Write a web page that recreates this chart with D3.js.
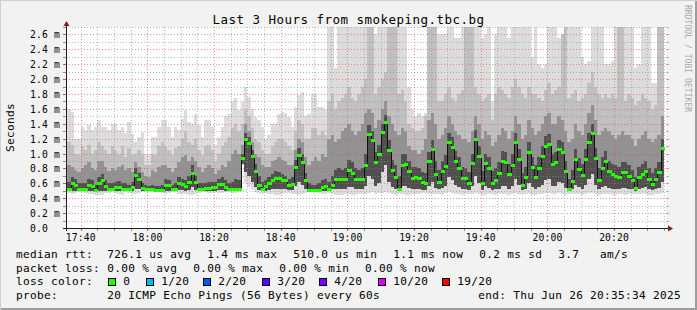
<!DOCTYPE html>
<html>
<head>
<meta charset="utf-8">
<script src="https://cdn.jsdelivr.net/npm/d3@7"></script>
<style>
  html, body { margin: 0; padding: 0; background: #f2f2f2; }
  svg { display: block; }
  text { font-family: "DejaVu Sans Mono", monospace; fill: #000; }
</style>
</head>
<body>
<div id="chart"></div>
<script>
// one value per minute, in ms (17:36 .. 20:35)
const median = [
  .52,.61,.58,.53,.52,.52,.58,.56,.51,.60,
  .64,.56,.52,.52,.55,.55,.53,.53,.52,.55,
  .71,.66,.54,.53,.53,.53,.51,.51,.51,.58,
  .58,.52,.53,.61,.59,.57,.62,.74,.62,.52,
  .53,.54,.54,.55,.55,.59,.59,.55,.53,.53,
  .53,.53,.94,1.19,1.14,.97,.76,.58,.53,.56,
  .61,.64,.67,.67,.64,.64,.58,.59,.82,.98,
  .89,.64,.51,.51,.51,.51,.55,.56,.53,.58,
  .66,.66,.66,.66,.78,.74,.66,.66,.66,.85,
  1.26,1.18,.88,.99,1.29,1.43,1.05,.78,.69,.53,
  .85,.86,.76,.67,.68,.67,.62,.60,.90,1.06,
  .73,.62,.77,.83,1.16,1.09,.90,.80,.67,.67,
  .60,.87,1.20,.97,.61,.87,.80,.61,.65,.74,
  .90,.89,.72,.85,1.15,.93,.58,.68,1.02,.82,
  .68,.81,.97,1.10,1.13,.86,.89,1.06,1.02,.76,
  .52,.63,.93,.79,.71,.93,1.15,1.28,.94,.65,
  .81,.90,.76,.72,.70,.68,.75,.75,.70,.64,
  .54,.68,.72,.76,.66,.59,.66,.75,1.07
];

// lowest ping of each minute
const minPing = [
  .47,.46,.47,.48,.48,.47,.46,.46,.44,.45,
  .45,.47,.47,.48,.47,.46,.45,.48,.47,.46,
  .46,.47,.48,.49,.49,.48,.48,.48,.47,.46,
  .47,.48,.48,.46,.46,.46,.45,.45,.46,.47,
  .48,.48,.47,.47,.48,.47,.47,.48,.48,.47,
  .47,.48,.84,.60,.55,.52,.48,.47,.46,.47,
  .46,.46,.45,.45,.46,.47,.47,.46,.46,.45,
  .46,.47,.48,.48,.48,.47,.46,.46,.47,.46,
  .45,.45,.45,.46,.46,.45,.45,.46,.46,.46,
  .47,.48,.46,.47,.47,.48,.47,.46,.45,.46,
  .46,.45,.45,.46,.46,.46,.47,.47,.46,.46,
  .46,.46,.45,.47,.48,.47,.46,.46,.45,.46,
  .46,.46,.47,.46,.45,.45,.46,.46,.45,.46,
  .46,.46,.45,.46,.47,.46,.45,.46,.46,.45,
  .45,.46,.46,.47,.47,.46,.46,.47,.46,.45,
  .46,.46,.46,.46,.45,.46,.47,.47,.46,.45,
  .46,.46,.46,.45,.45,.46,.46,.45,.46,.46,
  .46,.46,.46,.46,.45,.45,.46,.46,.47
];

// lower edge of the inner smoke bands
const innerLow = [
  .50,.50,.50,.50,.50,.50,.50,.50,.49,.50,
  .50,.50,.50,.50,.50,.50,.50,.50,.50,.50,
  .52,.52,.50,.50,.50,.50,.49,.49,.49,.50,
  .50,.50,.50,.51,.51,.50,.51,.55,.51,.50,
  .50,.50,.50,.50,.50,.51,.51,.50,.50,.50,
  .50,.50,.86,.75,.70,.62,.55,.51,.50,.50,
  .51,.52,.52,.52,.52,.52,.51,.51,.56,.62,
  .58,.52,.49,.49,.49,.49,.50,.50,.50,.52,
  .52,.52,.52,.52,.55,.55,.52,.52,.52,.56,
  .70,.66,.56,.60,.75,.85,.62,.55,.53,.50,
  .56,.56,.54,.52,.52,.52,.51,.51,.56,.62,
  .54,.52,.54,.56,.68,.64,.58,.55,.52,.52,
  .51,.56,.70,.60,.51,.56,.54,.51,.52,.53,
  .56,.56,.53,.56,.66,.58,.51,.53,.60,.55,
  .53,.55,.58,.64,.66,.56,.57,.62,.60,.54,
  .50,.52,.58,.55,.53,.58,.66,.72,.58,.52,
  .55,.57,.54,.53,.53,.53,.54,.54,.53,.52,
  .50,.53,.54,.55,.53,.51,.53,.54,.62
];

// upper edges of the smoke bands, darkest first
const band1 = [
  .62,.68,.66,.60,.60,.60,.66,.64,.58,.68,
  .72,.64,.60,.60,.62,.63,.60,.60,.58,.62,
  .80,.74,.60,.58,.57,.58,.56,.56,.58,.66,
  .65,.58,.60,.68,.66,.64,.70,.85,.70,.60,
  .60,.60,.62,.62,.62,.66,.68,.64,.60,.62,
  .66,.64,1.00,1.28,1.22,1.05,.86,.70,.62,.64,
  .68,.72,.76,.75,.72,.70,.66,.68,.92,1.08,
  1.00,.74,.60,.58,.58,.60,.64,.66,.62,.70,
  .78,.80,.78,.80,.92,.88,.80,.78,.80,1.00,
  1.38,1.30,1.02,1.12,1.40,1.52,1.18,.92,.85,.70,
  1.00,1.00,.90,.82,.82,.80,.75,.74,1.02,1.18,
  .90,.78,.90,.98,1.28,1.22,1.04,.95,.82,.80,
  .75,1.00,1.32,1.10,.76,1.00,.95,.76,.80,.88,
  1.04,1.02,.86,1.00,1.28,1.06,.74,.82,1.16,.96,
  .84,.96,1.10,1.24,1.26,1.00,1.02,1.18,1.15,.90,
  .66,.78,1.06,.94,.86,1.06,1.28,1.40,1.08,.80,
  .96,1.04,.90,.86,.84,.82,.88,.88,.84,.78,
  .68,.82,.86,.90,.80,.74,.80,.88,1.20
];
const band2 = [
  .85,.82,.78,.75,.80,.85,.88,.80,.78,.90,
  .90,.82,.76,.80,.78,.82,.85,.78,.80,.75,
  .88,.82,.75,.70,.68,.78,.75,.82,.85,.85,
  .80,.75,.80,.88,.95,.98,.90,.95,.90,.82,
  .75,.80,.85,.80,.72,.78,.85,.82,.90,1.00,
  1.05,1.00,1.12,1.40,1.30,1.15,1.00,.95,.85,.82,
  .82,.90,.92,.95,.92,.90,.85,.85,1.05,1.20,
  1.15,.95,.85,.90,.95,.90,1.00,.95,1.20,1.25,
  1.15,1.20,1.30,1.35,1.40,1.30,1.25,1.30,1.40,1.55,
  1.60,1.55,1.35,1.45,1.60,1.70,1.50,1.40,1.30,1.25,
  1.35,1.30,1.10,1.05,1.05,1.00,1.05,1.20,1.45,1.55,
  1.40,1.20,1.25,1.35,1.50,1.40,1.30,1.25,1.20,1.20,
  1.15,1.30,1.50,1.40,1.20,1.30,1.25,1.10,1.15,1.25,
  1.35,1.30,1.20,1.30,1.50,1.40,1.20,1.25,1.45,1.35,
  1.25,1.30,1.40,1.50,1.55,1.40,1.40,1.50,1.45,1.30,
  1.15,1.20,1.40,1.30,1.25,1.40,1.55,1.65,1.45,1.25,
  1.30,1.35,1.30,1.25,1.20,1.25,1.30,1.25,1.25,1.20,
  1.10,1.20,1.25,1.30,1.20,1.15,1.20,1.25,1.50
];
const band3 = [
  1.15,1.12,1.00,.98,1.10,1.05,1.12,1.00,1.05,1.15,
  1.10,1.05,1.00,1.10,1.05,1.00,1.10,.95,1.08,.98,
  1.00,1.05,1.00,.85,.85,1.00,.98,1.10,1.15,1.10,
  1.05,.98,1.08,1.10,1.20,1.30,1.15,1.12,1.20,1.05,
  .98,1.10,1.12,1.05,.90,1.00,1.10,1.15,1.22,1.35,
  1.40,1.30,1.40,1.60,1.50,1.35,1.20,1.15,1.05,1.00,
  1.00,1.10,1.15,1.20,1.20,1.15,1.10,1.05,1.30,1.45,
  1.40,1.20,1.20,1.35,1.35,1.25,1.30,1.25,1.70,1.80,
  1.60,1.70,1.75,1.80,1.90,1.75,1.70,1.80,1.90,2.00,
  2.70,2.70,1.80,1.90,2.00,2.10,2.70,2.70,2.70,1.80,
  1.85,1.70,1.40,1.35,1.30,1.30,1.35,1.50,2.70,2.70,
  2.70,1.70,1.70,1.80,1.90,1.75,1.70,1.80,1.85,2.70,
  2.70,2.70,1.90,1.80,1.70,1.75,1.80,1.45,1.80,1.90,
  1.85,1.80,1.75,1.90,2.00,1.90,1.80,1.75,1.90,1.80,
  1.80,1.75,1.70,1.85,1.95,1.80,1.85,1.90,2.60,2.70,
  1.75,1.80,1.85,1.70,1.75,1.80,1.95,2.10,1.90,1.80,
  1.75,1.80,1.75,1.80,1.75,2.70,2.70,1.70,1.80,1.75,
  1.65,1.70,1.80,1.75,1.70,1.60,1.65,2.70,2.70
];
// highest ping of each minute (2.70 = off the top)
const maxPing = [
  1.60,1.56,1.20,1.20,1.36,1.31,1.38,1.31,1.36,1.45,
  1.36,1.36,1.31,1.40,1.40,1.31,1.36,1.27,1.42,1.26,
  1.15,1.22,1.29,1.00,1.00,1.22,1.22,1.36,1.45,1.45,
  1.36,1.22,1.36,1.31,1.47,1.59,1.42,1.40,1.53,1.38,
  1.22,1.45,1.45,1.36,1.11,1.22,1.36,1.51,1.53,1.71,
  1.75,1.58,1.69,1.90,1.76,1.60,1.49,1.45,1.36,1.20,
  1.25,1.40,1.40,1.53,1.56,1.54,1.49,1.36,1.62,1.78,
  1.83,1.51,1.53,1.80,1.80,1.62,1.63,1.58,2.70,2.70,
  2.15,2.70,2.70,2.70,2.70,2.70,2.70,2.70,2.70,2.70,
  2.70,2.70,2.60,2.70,2.70,2.70,2.70,2.70,2.70,2.70,
  2.70,2.70,1.90,1.60,1.50,1.55,1.50,1.55,2.70,2.70,
  2.70,2.60,2.60,2.60,2.70,2.70,2.55,2.55,2.70,2.70,
  2.70,2.70,2.70,2.70,2.55,2.60,2.70,1.70,2.60,2.70,
  2.70,2.70,2.55,2.70,2.70,2.70,2.70,2.70,2.70,2.30,
  2.70,2.20,2.15,2.20,2.70,2.70,2.70,2.55,2.60,2.70,
  2.70,2.70,2.70,2.70,2.30,2.20,2.25,2.70,2.70,2.70,
  2.70,2.20,2.20,2.25,2.70,2.70,2.70,2.70,2.70,2.70,
  2.15,2.20,2.70,2.70,2.70,1.95,1.95,2.70,2.70
];

const yTickValues = [0, 0.2, 0.4, 0.6, 0.8, 1.0, 1.2, 1.4, 1.6, 1.8, 2.0, 2.2, 2.4, 2.6];
const yTickLabels = ["0.0", "0.2 m", "0.4 m", "0.6 m", "0.8 m", "1.0 m", "1.2 m",
  "1.4 m", "1.6 m", "1.8 m", "2.0 m", "2.2 m", "2.4 m", "2.6 m"];
const xTickLabels = ["17:40", "18:00", "18:20", "18:40", "19:00", "19:20", "19:40", "20:00", "20:20"];

const lossLabels = ["0", "1/20", "2/20", "3/20", "4/20", "10/20", "19/20"];
const lossColors = ["#26ff00", "#00b8ff", "#0059ff", "#5e00ff", "#7e00ff", "#dd00ff", "#ff0000"];

const smokeColors = ["#dcdcdc", "#c0c0c0", "#929292", "#505050"];

const W = 697, H = 310;
const plot = { left: 66, right: 666, top: 27, bottom: 228 };

const endTime = new Date(2025, 5, 26, 20, 35, 34);
const startTime = d3.timeHour.offset(endTime, -3);
const firstCol = new Date(2025, 5, 26, 17, 36, 0);

const x = d3.scaleTime().domain([startTime, endTime]).range([plot.left, plot.right]);
const y = d3.scaleLinear().domain([0, 2.7]).range([plot.bottom, plot.top]);
const py = v => Math.round(y(v)) + 0.5;
const px = t => Math.round(x(t)) + 0.5;

const svg = d3.select("#chart").append("svg")
  .attr("width", W).attr("height", H);

// frame with rrdtool style shading
svg.append("rect").attr("width", W).attr("height", H).attr("fill", "#f2f2f2");
svg.append("path").attr("d", `M0,${H} V0 H${W}`).attr("fill", "none")
  .attr("stroke", "#cfcfcf").attr("stroke-width", 2);
svg.append("path").attr("d", `M1,${H - 1} H${W - 1} V1`).attr("fill", "none")
  .attr("stroke", "#9e9e9e").attr("stroke-width", 2);

svg.append("rect")
  .attr("x", plot.left).attr("y", plot.top)
  .attr("width", plot.right - plot.left).attr("height", plot.bottom - plot.top)
  .attr("fill", "#fff");

svg.append("clipPath").attr("id", "plotClip")
  .append("rect")
  .attr("x", plot.left).attr("y", plot.top)
  .attr("width", plot.right - plot.left).attr("height", plot.bottom - plot.top);

// step points: one per minute, plus the closing edge of the last one
const pts = median.map((m, i) => ({ t: d3.timeMinute.offset(firstCol, i), i }));
pts.push({ t: d3.timeMinute.offset(firstCol, median.length), i: median.length - 1 });

const bands = [
  { lo: minPing, hi: maxPing },
  { lo: innerLow, hi: band3 },
  { lo: innerLow, hi: band2 },
  { lo: innerLow, hi: band1 },
];

const gSmoke = svg.append("g").attr("clip-path", "url(#plotClip)");
gSmoke.selectAll("path")
  .data(bands)
  .join("path")
  .attr("fill", (d, k) => smokeColors[k])
  .attr("shape-rendering", "crispEdges")
  .attr("d", b => d3.area()
    .curve(d3.curveStepAfter)
    .x(d => x(d.t))
    .y0(d => y(b.lo[d.i]))
    .y1(d => y(b.hi[d.i]))(pts));

// grid, drawn over the smoke
const gGrid = svg.append("g").attr("stroke-dasharray", "1,2").attr("shape-rendering", "crispEdges");
const hLevels = d3.range(1, 28).map(k => k / 10);
gGrid.selectAll("line.h")
  .data(hLevels)
  .join("line")
  .attr("class", "h")
  .attr("x1", plot.left).attr("x2", plot.right)
  .attr("y1", d => py(d)).attr("y2", d => py(d))
  .attr("stroke", (d, k) => (k % 2 === 1 ? "rgba(222,79,79,0.6)" : "rgba(143,143,143,0.6)"));

const minorTimes = d3.timeMinute.every(5).range(startTime, endTime);
const majorTimes = d3.timeMinute.every(20).range(startTime, endTime);
const isMajor = t => t.getMinutes() % 20 === 0;

gGrid.selectAll("line.v")
  .data(minorTimes)
  .join("line")
  .attr("class", "v")
  .attr("x1", d => px(d)).attr("x2", d => px(d))
  .attr("y1", plot.top).attr("y2", plot.bottom)
  .attr("stroke", d => (isMajor(d) ? "rgba(222,79,79,0.6)" : "rgba(143,143,143,0.6)"));

// tick marks on the frame
const gTicks = svg.append("g").attr("shape-rendering", "crispEdges");
gTicks.selectAll("line.yl")
  .data(hLevels)
  .join("line")
  .attr("x1", plot.left - 3).attr("x2", plot.left)
  .attr("y1", d => py(d)).attr("y2", d => py(d))
  .attr("stroke", (d, k) => (k % 2 === 1 ? "#de4f4f" : "#8f8f8f"));
gTicks.selectAll("line.yr")
  .data(hLevels)
  .join("line")
  .attr("x1", plot.right).attr("x2", plot.right + 3)
  .attr("y1", d => py(d)).attr("y2", d => py(d))
  .attr("stroke", (d, k) => (k % 2 === 1 ? "#de4f4f" : "#8f8f8f"))
  .attr("opacity", 0.6);
gTicks.selectAll("line.xb")
  .data(minorTimes)
  .join("line")
  .attr("x1", d => px(d)).attr("x2", d => px(d))
  .attr("y1", plot.bottom).attr("y2", plot.bottom + 3)
  .attr("stroke", d => (isMajor(d) ? "#de4f4f" : "#8f8f8f"));

// median: black step line plus a short bar per minute in the loss colour
const gMedian = svg.append("g").attr("clip-path", "url(#plotClip)");
gMedian.append("path")
  .attr("fill", "none")
  .attr("stroke", "#111")
  .attr("stroke-width", 1)
  .attr("d", d3.line()
    .curve(d3.curveStepAfter)
    .x(d => Math.round(x(d.t)) + 0.5)
    .y(d => y(median[d.i]))(pts));

gMedian.selectAll("rect")
  .data(pts.slice(0, median.length))
  .join("rect")
  .attr("x", d => Math.round(x(d.t)))
  .attr("width", d => Math.round(x(d3.timeMinute.offset(d.t, 1))) - Math.round(x(d.t)) + 1)
  .attr("y", d => Math.round(y(median[d.i])) - 1)
  .attr("height", 3)
  .attr("fill", lossColors[0]);

// axes with arrows
svg.append("line")
  .attr("x1", plot.left - 3).attr("x2", plot.right + 3)
  .attr("y1", plot.bottom + 0.5).attr("y2", plot.bottom + 0.5)
  .attr("stroke", "#1f1f1f");
svg.append("line")
  .attr("x1", plot.left + 0.5).attr("x2", plot.left + 0.5)
  .attr("y1", plot.bottom + 3).attr("y2", plot.top - 3)
  .attr("stroke", "#1f1f1f");
svg.append("path")
  .attr("d", `M${plot.right + 2},${plot.bottom - 2.5} L${plot.right + 7},${plot.bottom + 0.5} L${plot.right + 2},${plot.bottom + 3.5} Z`)
  .attr("fill", "#801f1f");
svg.append("path")
  .attr("d", `M${plot.left - 2.5},${plot.top - 1} L${plot.left + 0.5},${plot.top - 6} L${plot.left + 3.5},${plot.top - 1} Z`)
  .attr("fill", "#801f1f");

// axis labels
svg.append("g").selectAll("text")
  .data(yTickValues)
  .join("text")
  .attr("x", 30)
  .attr("y", d => py(d) + 3.5)
  .attr("font-size", 9.7)
  .attr("letter-spacing", 0.15)
  .text((d, k) => yTickLabels[k]);

svg.append("g").selectAll("text")
  .data(majorTimes)
  .join("text")
  .attr("x", d => x(d))
  .attr("y", 241)
  .attr("text-anchor", "middle")
  .attr("font-size", 9.7)
  .attr("letter-spacing", 0.15)
  .text((d, k) => xTickLabels[k]);

svg.append("text")
  .attr("x", 348.5).attr("y", 24)
  .attr("text-anchor", "middle")
  .attr("font-size", 12.5)
  .attr("letter-spacing", 0.47)
  .text("Last 3 Hours from smokeping.tbc.bg");

svg.append("text")
  .attr("transform", "translate(13.5,127.5) rotate(-90)")
  .attr("text-anchor", "middle")
  .attr("font-size", 11.1)
  .attr("letter-spacing", 0.31)
  .text("Seconds");

svg.append("text")
  .attr("transform", "translate(685,5) rotate(90)")
  .attr("font-size", 8.1)
  .style("fill", "#a8a8a8")
  .text("RRDTOOL / TOBI OETIKER");

// legend
const legendRows = [
  { y: 257.7, items: [[16, "median rtt:"], [107.3, "726.1 us avg"], [207.3, "1.4 ms max"],
    [293.3, "510.0 us min"], [393.3, "1.1 ms now"], [479.3, "0.2 ms sd"], [558.3, "3.7"], [600, "am/s"]] },
  { y: 271.5, items: [[16, "packet loss:"], [107.3, "0.00 % avg"], [193.3, "0.00 % max"],
    [279.3, "0.00 % min"], [365, "0.00 % now"]] },
  { y: 285.3, items: [[16, "loss color:"]] },
  { y: 299, items: [[16, "probe:"], [107.3, "20 ICMP Echo Pings (56 Bytes) every 60s"],
    [478.3, "end: Thu Jun 26 20:35:34 2025"]] },
];
const gLegend = svg.append("g").attr("font-size", 11.1).attr("letter-spacing", 0.31);
legendRows.forEach(row => {
  gLegend.append("g").selectAll("text")
    .data(row.items)
    .join("text")
    .attr("x", d => d[0])
    .attr("y", row.y)
    .text(d => d[1]);
});

const boxX = [108, 146, 203, 262, 319, 378, 442];
const gLoss = svg.append("g");
gLoss.selectAll("rect")
  .data(lossColors)
  .join("rect")
  .attr("x", (d, k) => boxX[k] + 0.5)
  .attr("y", 278.5)
  .attr("width", 7).attr("height", 7)
  .attr("fill", d => d)
  .attr("stroke", "#000");
gLoss.selectAll("text")
  .data(lossLabels)
  .join("text")
  .attr("x", (d, k) => boxX[k] + 15.3)
  .attr("y", 285.3)
  .attr("font-size", 11.1)
  .attr("letter-spacing", 0.31)
  .text(d => d);
</script>
</body>
</html>
